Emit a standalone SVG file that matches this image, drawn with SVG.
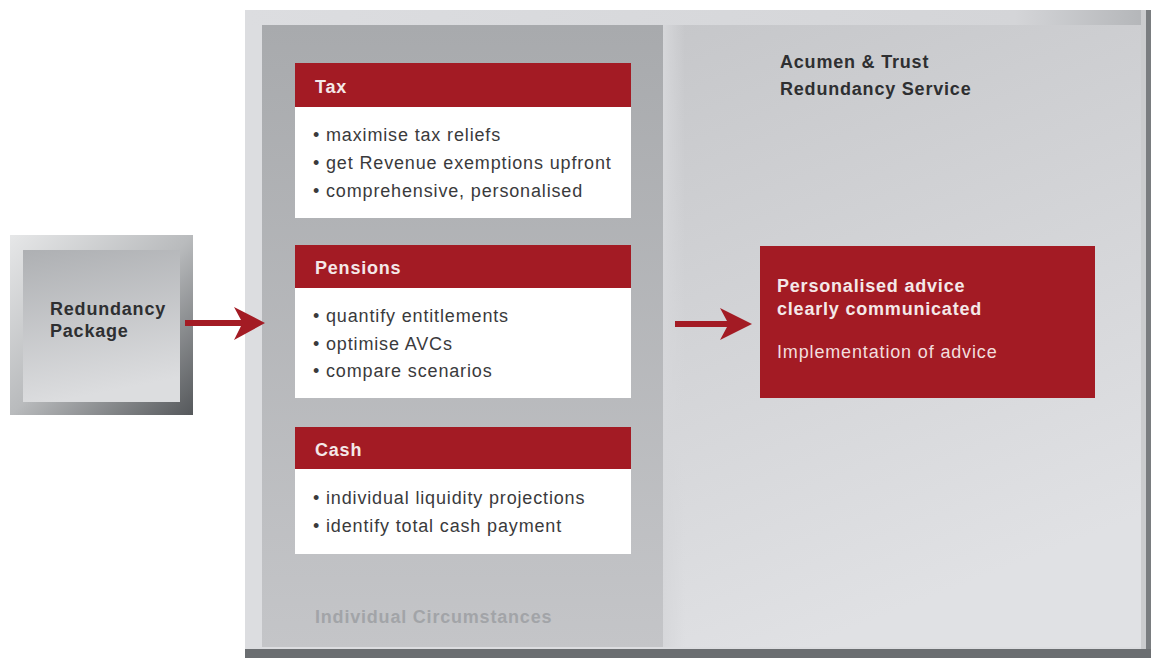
<svg xmlns="http://www.w3.org/2000/svg" width="1151" height="658" viewBox="0 0 1151 658">
<defs>
<linearGradient id="gLeft" x1="0" y1="0" x2="0" y2="1">
<stop offset="0" stop-color="#a8aaad"/>
<stop offset="1" stop-color="#c4c5c8"/>
</linearGradient>
<linearGradient id="gRight" x1="0" y1="0" x2="0.3" y2="1">
<stop offset="0" stop-color="#c6c7ca"/>
<stop offset="1" stop-color="#e0e1e4"/>
</linearGradient>
<linearGradient id="gTop" x1="0" y1="0" x2="1" y2="0">
<stop offset="0" stop-color="#dcdde0"/>
<stop offset="0.85" stop-color="#d4d5d8"/>
<stop offset="1" stop-color="#b2b4b7"/>
</linearGradient>
<linearGradient id="gStrip" x1="0" y1="0" x2="1" y2="0">
<stop offset="0" stop-color="#d6d7da"/>
<stop offset="1" stop-color="#d6d7da" stop-opacity="0"/>
</linearGradient>
<linearGradient id="gBevel" x1="0" y1="0" x2="1" y2="1">
<stop offset="0" stop-color="#e6e7e8"/>
<stop offset="0.5" stop-color="#b9bbbd"/>
<stop offset="1" stop-color="#55585b"/>
</linearGradient>
<linearGradient id="gFace" x1="0" y1="0" x2="0.2" y2="1">
<stop offset="0" stop-color="#aeb0b3"/>
<stop offset="1" stop-color="#dcdddf"/>
</linearGradient>
</defs>
<style>
.red{fill:#a31b24}
.white{fill:#ffffff}
.hd{font-family:"Liberation Sans",Arial,sans-serif;font-size:18px;font-weight:bold;letter-spacing:0.8px;fill:#f4e8e8}
.bl{font-family:"Liberation Sans",Arial,sans-serif;font-size:18px;letter-spacing:0.85px;fill:#3a3a3c}
.dk{font-family:"Liberation Sans",Arial,sans-serif;font-size:18px;font-weight:bold;letter-spacing:0.8px;fill:#2e2f31}
.arrow{fill:#a31b24}
</style>
<rect width="1151" height="658" fill="#ffffff"/>

<g id="panel">
<rect x="245" y="10" width="906" height="648" fill="#dcdde0"/>
<rect x="245" y="10" width="906" height="15" fill="url(#gTop)"/>
<rect x="1141" y="10" width="10" height="648" fill="#cbccce"/>
<rect x="1146" y="10" width="5" height="648" fill="#7a7d80"/>
<rect x="245" y="649" width="906" height="9" fill="#6b6e71"/>
<rect x="262" y="25" width="401" height="622" fill="url(#gLeft)"/>
<rect x="663" y="25" width="478" height="622" fill="url(#gRight)"/>
<rect x="663" y="25" width="22" height="622" fill="url(#gStrip)"/>
<text class="dk" x="780" y="68">Acumen &amp; Trust</text>
<text class="dk" x="780" y="95">Redundancy Service</text>
<text class="dk" x="315" y="623" style="fill:#a2a4a8">Individual Circumstances</text>
</g>

<g id="redundancy-package">
<rect x="10" y="235" width="183" height="180" fill="url(#gBevel)"/>
<rect x="23" y="250" width="157" height="152" fill="url(#gFace)"/>
<text class="dk" x="50" y="315">Redundancy</text>
<text class="dk" x="50" y="337">Package</text>
</g>

<g id="tax">
<rect x="295" y="63" width="336" height="155" class="white"/>
<rect x="295" y="63" width="336" height="44" class="red"/>
<text class="hd" x="315" y="93">Tax</text>
<text class="bl" x="313" y="141">• maximise tax reliefs</text>
<text class="bl" x="313" y="169">• get Revenue exemptions upfront</text>
<text class="bl" x="313" y="197">• comprehensive, personalised</text>
</g>

<g id="pensions">
<rect x="295" y="245" width="336" height="153" class="white"/>
<rect x="295" y="245" width="336" height="43" class="red"/>
<text class="hd" x="315" y="274">Pensions</text>
<text class="bl" x="313" y="322">• quantify entitlements</text>
<text class="bl" x="313" y="350">• optimise AVCs</text>
<text class="bl" x="313" y="377">• compare scenarios</text>
</g>

<g id="cash">
<rect x="295" y="427" width="336" height="127" class="white"/>
<rect x="295" y="427" width="336" height="42" class="red"/>
<text class="hd" x="315" y="456">Cash</text>
<text class="bl" x="313" y="504">• individual liquidity projections</text>
<text class="bl" x="313" y="532">• identify total cash payment</text>
</g>

<g id="advice">
<rect x="760" y="246" width="335" height="152" class="red"/>
<text class="hd" x="777" y="292">Personalised advice</text>
<text class="hd" x="777" y="315">clearly communicated</text>
<text class="bl" x="777" y="358" style="fill:#f2dede">Implementation of advice</text>
</g>

<g id="connectors">
<polygon class="arrow" points="185,320 241,320 234,307 265,323 234,340 241,326 185,326"/>
<polygon class="arrow" points="675,321 727,321 720,308 752,324 720,340 727,327 675,327"/>
</g>
</svg>
